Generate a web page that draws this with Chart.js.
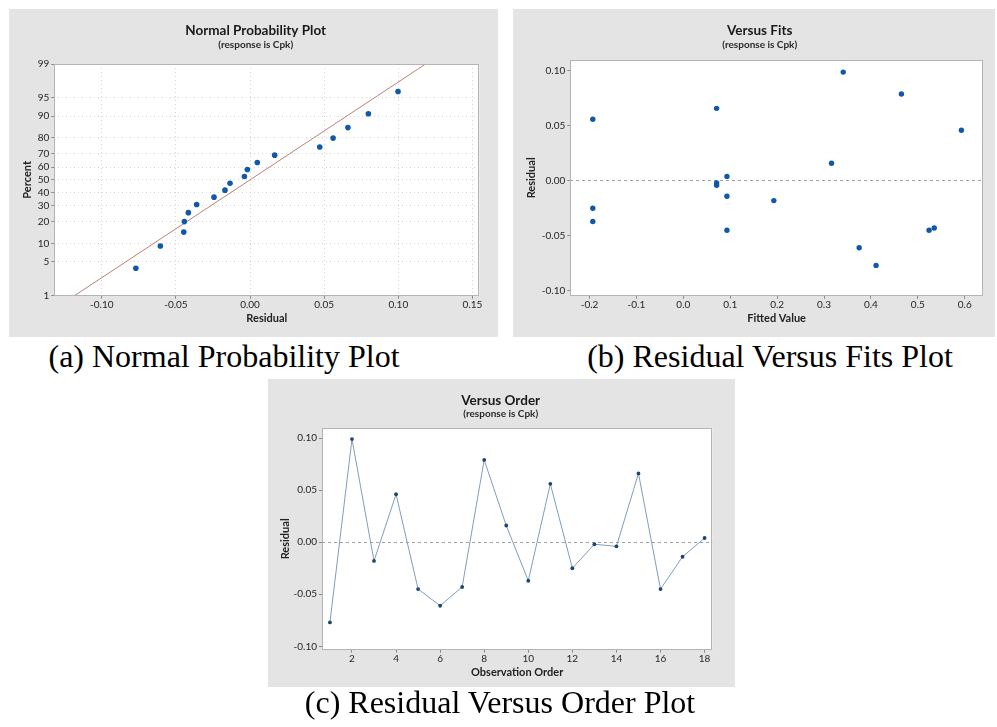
<!DOCTYPE html>
<html lang="en">
<head>
<meta charset="UTF-8">
<title>Residual Plots for Cpk</title>
<script src="https://cdn.jsdelivr.net/npm/chart.js"></script>
<style>
  body {
    margin: 0;
    width: 997px;
    height: 727px;
    position: relative;
    overflow: hidden;
    background: #ffffff;
  }
  .panel {
    position: absolute;
    background: #e4e4e4;
  }
  .panel canvas { display: block; }
  .caption {
    position: absolute;
    font-family: "Liberation Serif", "Times New Roman", serif;
    font-size: 32px;
    line-height: 32px;
    color: #000;
    white-space: nowrap;
    transform: translateX(-50%);
  }
</style>
</head>
<body>
<div class="panel" style="left:9px;top:9px;width:489px;height:328px">
  <canvas id="probChart" width="489" height="328"></canvas>
</div>
<div class="panel" style="left:513px;top:9px;width:482px;height:328px">
  <canvas id="fitsChart" width="482" height="328"></canvas>
</div>
<div class="panel" style="left:268px;top:379px;width:467px;height:308px">
  <canvas id="orderChart" width="467" height="308"></canvas>
</div>
<div class="caption" style="left:224px;top:340px">(a) Normal Probability Plot</div>
<div class="caption" style="left:770px;top:340px">(b) Residual Versus Fits Plot</div>
<div class="caption" style="left:500px;top:686px">(c) Residual Versus Order Plot</div>

<script>
// normal probability plot: ordered residuals and their plotting percents
const probResiduals = [-0.077, -0.0605, -0.0447, -0.0443, -0.0416, -0.036, -0.0243, -0.0169, -0.0135,
                       -0.0038, -0.0018, 0.0049, 0.0166, 0.047, 0.056, 0.066, 0.0798, 0.0998];
const probPercents = [3.8, 9.2, 14.7, 20.1, 25.5, 31.0, 36.4, 41.8, 47.3,
                      52.7, 58.2, 63.6, 69.0, 74.5, 79.9, 85.3, 90.8, 96.2];
const fitLineResiduals = [-0.1184, 0.1184];
const fitLinePercents = [1, 99];
const percentTicks = [1, 5, 10, 20, 30, 40, 50, 60, 70, 80, 90, 95, 99];
const probResidualTicks = [-0.10, -0.05, 0, 0.05, 0.10, 0.15];

// residuals by observation order, with the fitted value of each observation
const observationOrder = [1, 2, 3, 4, 5, 6, 7, 8, 9, 10, 11, 12, 13, 14, 15, 16, 17, 18];
const orderResiduals = [-0.077, 0.099, -0.018, 0.046, -0.045, -0.061, -0.043, 0.079, 0.016,
                        -0.037, 0.056, -0.025, -0.002, -0.004, 0.066, -0.045, -0.014, 0.004];
const fittedValues = [0.411, 0.341, 0.193, 0.593, 0.524, 0.375, 0.535, 0.465, 0.316,
                      -0.193, -0.193, -0.193, 0.071, 0.071, 0.071, 0.093, 0.093, 0.093];
const fitsTicks = [-0.2, -0.1, 0, 0.1, 0.2, 0.3, 0.4, 0.5, 0.6];
const residualTicks = [-0.10, -0.05, 0, 0.05, 0.10];
const orderTicks = [2, 4, 6, 8, 10, 12, 14, 16, 18];

const FONT = 'Lato, "Noto Sans", sans-serif';
const DOT = '#1158a8';
const TICK_COLOR = '#262626';
const tickFont = { family: FONT, size: 10 };
const axisTitleFont = { family: FONT, size: 11, weight: 'bold' };

// inverse standard normal CDF (Acklam), used for the probability axis
function normInv(p) {
  const a = [-39.69683028665376, 220.9460984245205, -275.9285104469687, 138.3577518672690, -30.66479806614716, 2.506628277459239];
  const b = [-54.47609879822406, 161.5858368580409, -155.6989798598866, 66.80131188771972, -13.28068155288572];
  const c = [-0.007784894002430293, -0.3223964580411365, -2.400758277161838, -2.549732539343734, 4.374664141464968, 2.938163982698783];
  const d = [0.007784695709041462, 0.3224671290700398, 2.445134137142996, 3.754408661907416];
  const lo = 0.02425;
  let q, r;
  if (p < lo) {
    q = Math.sqrt(-2 * Math.log(p));
    return (((((c[0]*q+c[1])*q+c[2])*q+c[3])*q+c[4])*q+c[5]) / ((((d[0]*q+d[1])*q+d[2])*q+d[3])*q+1);
  }
  if (p > 1 - lo) {
    q = Math.sqrt(-2 * Math.log(1 - p));
    return -(((((c[0]*q+c[1])*q+c[2])*q+c[3])*q+c[4])*q+c[5]) / ((((d[0]*q+d[1])*q+d[2])*q+d[3])*q+1);
  }
  q = p - 0.5;
  r = q * q;
  return (((((a[0]*r+a[1])*r+a[2])*r+a[3])*r+a[4])*r+a[5])*q / (((((b[0]*r+b[1])*r+b[2])*r+b[3])*r+b[4])*r+1);
}
const probit = pct => normInv(pct / 100);

// white plot area with a thin grey frame
const plotFrame = {
  id: 'plotFrame',
  beforeDraw(chart) {
    const { ctx, chartArea: a } = chart;
    ctx.save();
    ctx.fillStyle = '#ffffff';
    ctx.fillRect(a.left, a.top, a.right - a.left, a.bottom - a.top);
    ctx.restore();
  },
  afterDraw(chart) {
    const { ctx, chartArea: a } = chart;
    ctx.save();
    ctx.strokeStyle = '#b4b4b4';
    ctx.lineWidth = 1;
    ctx.strokeRect(Math.round(a.left) + 0.5, Math.round(a.top) + 0.5,
                   Math.round(a.right - a.left) - 1, Math.round(a.bottom - a.top) - 1);
    ctx.restore();
  }
};

// title + "(response is Cpk)" line centred over the panel
const panelHeading = {
  id: 'panelHeading',
  afterDraw(chart, args, opts) {
    const ctx = chart.ctx;
    ctx.save();
    ctx.textAlign = 'center';
    ctx.textBaseline = 'middle';
    ctx.fillStyle = '#1a1a1a';
    ctx.font = 'bold 13.5px ' + FONT;
    ctx.fillText(opts.title, opts.x, opts.titleY);
    ctx.font = 'bold 10px ' + FONT;
    ctx.fillStyle = '#2a2a2a';
    ctx.fillText(opts.subtitle, opts.x, opts.subY);
    ctx.restore();
  }
};

function fixedTicks(values) {
  return scale => { scale.ticks = values.map(v => ({ value: v })); };
}

function yResidualAxis(width, titlePad, min, max) {
  return {
    type: 'linear', min: min, max: max,
    afterBuildTicks: fixedTicks(residualTicks),
    afterFit: s => { s.width = width; },
    ticks: { callback: v => v.toFixed(2), font: tickFont, color: TICK_COLOR, padding: 2 },
    grid: {
      color: ctx => (ctx.tick && ctx.tick.value === 0) ? '#a0a0a0' : 'rgba(0,0,0,0)',
      tickColor: '#8a8a8a', tickLength: 3
    },
    border: { display: false, dash: [3, 3] },
    title: { display: true, text: 'Residual', font: axisTitleFont, color: '#222', padding: { top: titlePad, bottom: 0 } }
  };
}

const common = {
  responsive: false,
  animation: false,
  events: [],
  plugins: { legend: { display: false }, tooltip: { enabled: false } }
};

// (a) normal probability plot
new Chart(document.getElementById('probChart'), {
  type: 'scatter',
  data: {
    datasets: [
      {
        data: probResiduals.map((r, i) => ({ x: r, y: probit(probPercents[i]) })),
        pointRadius: 2.8, pointBackgroundColor: DOT, pointBorderWidth: 0, order: 0
      },
      {
        data: fitLineResiduals.map((r, i) => ({ x: r, y: probit(fitLinePercents[i]) })),
        showLine: true, borderColor: '#c07f77', borderWidth: 1, pointRadius: 0, order: 1
      }
    ]
  },
  options: {
    ...common,
    layout: { padding: { top: 55, right: 18.7, left: 0, bottom: 0 } },
    scales: {
      x: {
        type: 'linear', min: -0.132, max: 0.1546,
        afterBuildTicks: fixedTicks(probResidualTicks),
        afterFit: s => { s.height = 41.3; },
        ticks: { callback: v => v.toFixed(2), font: tickFont, color: TICK_COLOR, padding: 0, maxRotation: 0, autoSkip: false },
        grid: { color: '#d4d4d4', tickColor: '#8a8a8a', tickLength: 3 },
        border: { display: false, dash: [1, 3] },
        title: { display: true, text: 'Residual', font: axisTitleFont, color: '#222', padding: { top: 0, bottom: 12 } }
      },
      y: {
        type: 'linear', min: probit(1), max: probit(99),
        afterBuildTicks: fixedTicks(percentTicks.map(probit)),
        afterFit: s => { s.width = 45.3; },
        ticks: { callback: (v, i) => percentTicks[i], font: tickFont, color: TICK_COLOR, padding: 2, autoSkip: false },
        grid: { color: '#d4d4d4', tickColor: '#8a8a8a', tickLength: 3 },
        border: { display: false, dash: [1, 3] },
        title: { display: true, text: 'Percent', font: axisTitleFont, color: '#222', padding: { top: 11.7, bottom: 0 } }
      }
    },
    plugins: {
      ...common.plugins,
      panelHeading: { title: 'Normal Probability Plot', subtitle: '(response is Cpk)', x: 246.7, titleY: 21.7, subY: 36 }
    }
  },
  plugins: [plotFrame, panelHeading]
});

// (b) residuals versus fitted values
new Chart(document.getElementById('fitsChart'), {
  type: 'scatter',
  data: {
    datasets: [{
      data: fittedValues.map((f, i) => ({ x: f, y: orderResiduals[i] })),
      pointRadius: 2.7, pointBackgroundColor: DOT, pointBorderWidth: 0
    }]
  },
  options: {
    ...common,
    layout: { padding: { top: 51, right: 12, left: 0, bottom: 0 } },
    scales: {
      x: {
        type: 'linear', min: -0.241, max: 0.639,
        afterBuildTicks: fixedTicks(fitsTicks),
        afterFit: s => { s.height = 41.3; },
        ticks: { callback: v => v.toFixed(1), font: tickFont, color: TICK_COLOR, padding: 0, maxRotation: 0, autoSkip: false },
        grid: { drawOnChartArea: false, tickColor: '#8a8a8a', tickLength: 3 },
        border: { display: false },
        title: { display: true, text: 'Fitted Value', font: axisTitleFont, color: '#222', padding: { top: 0, bottom: 12 } }
      },
      y: yResidualAxis(57.3, 11.7, -0.1046, 0.110)
    },
    plugins: {
      ...common.plugins,
      panelHeading: { title: 'Versus Fits', subtitle: '(response is Cpk)', x: 246.7, titleY: 21.7, subY: 36 }
    }
  },
  plugins: [plotFrame, panelHeading]
});

// (c) residuals versus observation order
new Chart(document.getElementById('orderChart'), {
  type: 'scatter',
  data: {
    datasets: [{
      data: observationOrder.map((o, i) => ({ x: o, y: orderResiduals[i] })),
      showLine: true, borderColor: '#7f9fbd', borderWidth: 1,
      pointRadius: 1.9, pointBackgroundColor: '#1d4474', pointBorderWidth: 0
    }]
  },
  options: {
    ...common,
    layout: { padding: { top: 49, right: 22.7, left: 0, bottom: 0 } },
    scales: {
      x: {
        type: 'linear', min: 0.64, max: 18.35,
        afterBuildTicks: fixedTicks(orderTicks),
        afterFit: s => { s.height = 37.3; },
        ticks: { font: tickFont, color: TICK_COLOR, padding: 0, maxRotation: 0, autoSkip: false },
        grid: { drawOnChartArea: false, tickColor: '#8a8a8a', tickLength: 3 },
        border: { display: false },
        title: { display: true, text: 'Observation Order', font: axisTitleFont, color: '#222', padding: { top: 0, bottom: 8 } }
      },
      y: yResidualAxis(54, 10.7, -0.1032, 0.1096)
    },
    plugins: {
      ...common.plugins,
      panelHeading: { title: 'Versus Order', subtitle: '(response is Cpk)', x: 232.7, titleY: 21.3, subY: 35 }
    }
  },
  plugins: [plotFrame, panelHeading]
});
</script>
</body>
</html>
